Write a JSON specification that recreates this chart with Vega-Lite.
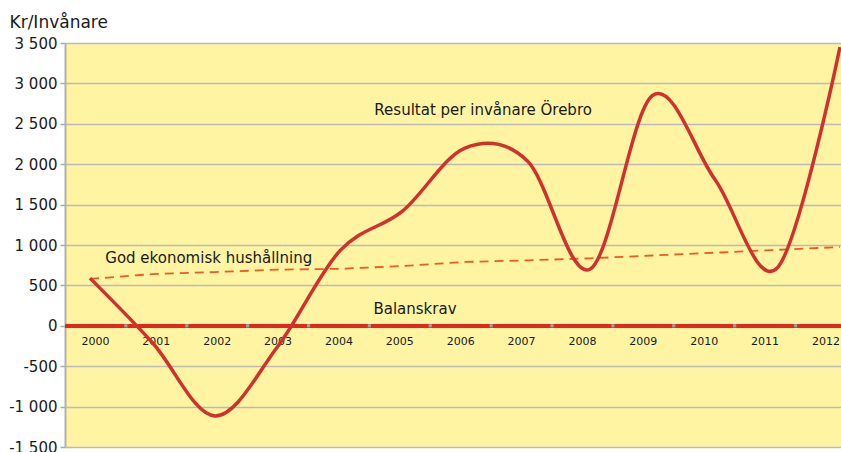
{
  "$schema": "https://vega.github.io/schema/vega-lite/v6.json",
  "width": 776,
  "height": 404,
  "autosize": "none",
  "padding": {"left": 65, "top": 43, "right": 0, "bottom": 5},
  "config": {
    "view": {"fill": "#fef4a2", "stroke": null},
    "font": "DejaVu Sans",
    "text": {"font": "DejaVu Sans"}
  },
  "datasets": {
    "series": [
      {"year": 2000, "resultat": 590, "god": 580},
      {"year": 2001, "resultat": -210, "god": 640},
      {"year": 2002, "resultat": -1115, "god": 665},
      {"year": 2003, "resultat": -260, "god": 695},
      {"year": 2004, "resultat": 930, "god": 705},
      {"year": 2005, "resultat": 1420, "god": 740},
      {"year": 2006, "resultat": 2200, "god": 790},
      {"year": 2007, "resultat": 2040, "god": 810},
      {"year": 2008, "resultat": 700, "god": 835},
      {"year": 2009, "resultat": 2850, "god": 870},
      {"year": 2010, "resultat": 1810, "god": 905},
      {"year": 2011, "resultat": 720, "god": 940},
      {"year": 2012, "resultat": 3450, "god": 975}
    ],
    "notes": [
      {"year": 2006.29, "value": 2670, "text": "Resultat per invånare Örebro"},
      {"year": 2001.9, "value": 836, "text": "God ekonomisk hushållning"},
      {"year": 2005.2, "value": 205, "text": "Balanskrav"}
    ],
    "years": [
      {"year": 2000}, {"year": 2001}, {"year": 2002}, {"year": 2003},
      {"year": 2004}, {"year": 2005}, {"year": 2006}, {"year": 2007},
      {"year": 2008}, {"year": 2009}, {"year": 2010}, {"year": 2011},
      {"year": 2012}
    ],
    "ticks": [
      {"pos": 2000.5}, {"pos": 2001.5}, {"pos": 2002.5}, {"pos": 2003.5},
      {"pos": 2004.5}, {"pos": 2005.5}, {"pos": 2006.5}, {"pos": 2007.5},
      {"pos": 2008.5}, {"pos": 2009.5}, {"pos": 2010.5}, {"pos": 2011.5}
    ]
  },
  "layer": [
    {
      "layer": [
        {
          "data": {"name": "ticks"},
          "mark": {"type": "rule", "color": "#e3261b", "strokeWidth": 3.5},
          "encoding": {"y": {"datum": 0, "type": "quantitative", "scale": {"domain": [-1500, 3500], "nice": false, "zero": false},
            "axis": {
              "values": [-1500, -1000, -500, 0, 500, 1000, 1500, 2000, 2500, 3000, 3500],
              "labelExpr": "replace(replace(format(datum.value, ','), ',', ' '), '\u2212', '-')",
              "labelFontSize": 15,
              "labelColor": "#1a1a1a",
              "labelPadding": 3,
              "tickSize": 5,
              "tickColor": "#aaaaaa",
              "tickWidth": 1.5,
              "domainColor": "#b0b0b0",
              "domainWidth": 2,
              "grid": true,
              "gridColor": "#bababa",
              "gridWidth": 1.5,
              "title": "Kr/Invånare",
              "titleAngle": 0,
              "titleAlign": "left",
              "titleBaseline": "alphabetic",
              "titleX": -56,
              "titleY": -16,
              "titleFontSize": 17,
              "titleFontWeight": "normal",
              "titleColor": "#1a1a1a"
            }}}
        },
        {
          "data": {"name": "ticks"},
          "mark": {"type": "point", "shape": "square", "filled": true, "size": 10, "color": "#a0a0a0", "opacity": 1},
          "encoding": {
            "x": {"field": "pos", "type": "quantitative", "scale": {"domain": [1999.5, 2012.247], "nice": false, "zero": false}, "axis": null},
            "y": {"datum": 0, "type": "quantitative"}
          }
        },
        {
          "data": {"name": "years"},
          "mark": {"type": "text", "fontSize": 11, "color": "#1a1a1a", "dy": 16, "baseline": "middle", "align": "center"},
          "encoding": {
            "x": {"field": "year", "type": "quantitative"},
            "y": {"datum": 0, "type": "quantitative"},
            "text": {"field": "year", "type": "nominal"}
          }
        }
      ]
    },
    {
      "layer": [
        {
          "data": {"name": "series"},
          "mark": {"type": "line", "color": "#ee5a24", "strokeWidth": 1.8, "strokeDash": [9, 6], "interpolate": "linear"},
          "encoding": {
            "x": {"field": "year", "type": "quantitative", "scale": {"domain": [1999.6, 2012.016], "nice": false, "zero": false}, "axis": null},
            "y": {"field": "god", "type": "quantitative"}
          }
        },
        {
          "data": {"name": "series"},
          "mark": {"type": "line", "color": "#d0312d", "strokeWidth": 3.5, "interpolate": "cardinal", "tension": 0, "clip": true},
          "encoding": {
            "x": {"field": "year", "type": "quantitative"},
            "y": {"field": "resultat", "type": "quantitative"}
          }
        },
        {
          "data": {"name": "notes"},
          "mark": {"type": "text", "fontSize": 15, "color": "#1a1a1a", "baseline": "middle", "align": "center"},
          "encoding": {
            "x": {"field": "year", "type": "quantitative"},
            "y": {"field": "value", "type": "quantitative"},
            "text": {"field": "text", "type": "nominal"}
          }
        }
      ]
    }
  ],
  "resolve": {"scale": {"x": "independent"}}
}
